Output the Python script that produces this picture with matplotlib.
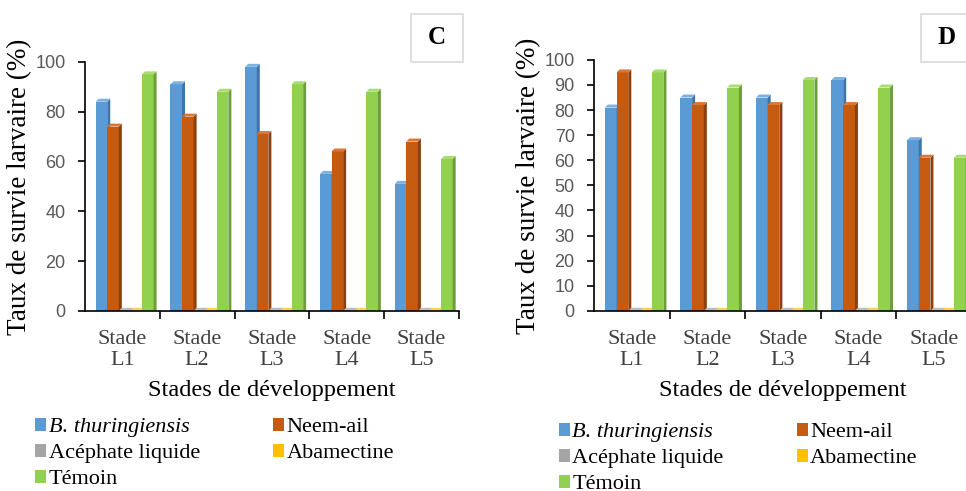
import matplotlib
matplotlib.use('Agg')
import matplotlib.pyplot as plt
from matplotlib.patches import Patch, Rectangle
import numpy as np

plt.rcParams['font.family'] = ['Liberation Serif', 'DejaVu Serif']

stages = ['Stade\nL1', 'Stade\nL2', 'Stade\nL3', 'Stade\nL4', 'Stade\nL5']
series = ['B. thuringiensis', 'Neem-ail', 'Acéphate liquide', 'Abamectine', 'Témoin']

# panel C
c_bt = [84, 91, 98, 55, 51]
c_neem = [74, 78, 71, 64, 68]
c_acephate = [0, 0, 0, 0, 0]
c_abamectine = [0, 0, 0, 0, 0]
c_temoin = [95, 88, 91, 88, 61]

# panel D
d_bt = [81, 85, 85, 92, 68]
d_neem = [95, 82, 82, 82, 61]
d_acephate = [0, 0, 0, 0, 0]
d_abamectine = [0, 0, 0, 0, 0]
d_temoin = [95, 89, 92, 89, 61]

front = ['#5B9BD5', '#C55A11', '#A5A5A5', '#FFC000', '#92D050']
side = ['#3F74A8', '#8E3F0B', '#7C7C7C', '#C09000', '#6E9E3A']
top = ['#7DB1E0', '#D9773A', '#BDBDBD', '#FFD24D', '#A9DC75']

W = 0.155     # bar width (category units)
DX = 0.04     # depth in x
DY = 1.2      # depth in y (data units)


def draw_panel(ax, data, yticks):
    x = np.arange(len(stages))
    for i, vals in enumerate(data):
        xs = x + (i - 2) * W + 0.03
        z = 2 + i
        ax.bar(xs, vals, width=W, color=front[i], zorder=z, linewidth=0)
        for xc, v in zip(xs, vals):
            x0, x1 = xc - W / 2, xc + W / 2
            # right side face
            ax.fill([x1, x1 + DX, x1 + DX, x1], [0, 0, v + DY, v],
                    color=side[i], zorder=z, linewidth=0)
            # top face
            ax.fill([x0, x1, x1 + DX, x0 + DX], [v, v, v + DY, v + DY],
                    color=top[i], zorder=z, linewidth=0)
    ax.set_xlim(-0.5, 4.5)
    ax.set_ylim(0, 100)
    ax.set_yticks(yticks)
    ax.set_yticklabels([str(t) for t in yticks], family='Liberation Sans')
    ax.set_xticks(x)
    ax.set_xticklabels(stages, fontsize=16, color='#404040', linespacing=1.15)
    ax.set_xticks(np.arange(0.5, 5, 1), minor=True)
    ax.tick_params(axis='x', which='major', length=0, pad=14)
    ax.tick_params(axis='x', which='minor', length=6, width=1.2, direction='out')
    ax.tick_params(axis='y', length=5, width=1.2, labelsize=13, labelcolor='#595959', pad=9)
    for s in ['top', 'right']:
        ax.spines[s].set_visible(False)
    for s in ['left', 'bottom']:
        ax.spines[s].set_linewidth(1.2)
        ax.spines[s].set_zorder(10)
    ax.set_ylabel('Taux de survie larvaire (%)', fontsize=19.5, labelpad=2)
    ax.set_xlabel('Stades de développement', fontsize=17.5, labelpad=7)


fig = plt.figure(figsize=(9.66, 4.91), dpi=100)
ax_c = fig.add_axes([0.088, 0.367, 0.387, 0.507])
ax_d = fig.add_axes([0.615, 0.367, 0.391, 0.511])

draw_panel(ax_c, [c_bt, c_neem, c_acephate, c_abamectine, c_temoin], np.arange(0, 101, 20))
draw_panel(ax_d, [d_bt, d_neem, d_acephate, d_abamectine, d_temoin], np.arange(0, 101, 10))

# legends (column-major order to get row layout)
order = [0, 2, 4, 1, 3]
for xpos, ypos in [(0.025, 0.171), (0.567, 0.161)]:
    handles = [Patch(facecolor=front[k], edgecolor='none') for k in order]
    labels = [series[k] for k in order]
    leg = fig.legend(handles, labels, ncol=2, loc='upper left',
                     bbox_to_anchor=(xpos, ypos), frameon=False, fontsize=16,
                     handlelength=0.5, handleheight=0.5, handletextpad=0.1,
                     labelspacing=0.3, columnspacing=3.3, borderpad=0)
    leg.get_texts()[0].set_style('italic')

# panel letters
for bx, letter in [(411, 'C'), (921, 'D')]:
    fig.patches.append(Rectangle((bx / 966, 1 - 62 / 491), 52 / 966, 48 / 491,
                                 transform=fig.transFigure, facecolor='white',
                                 edgecolor='#D9D9D9', linewidth=1.2))
    fig.text((bx + 26) / 966, 1 - 38 / 491, letter, fontsize=18, fontweight='bold',
             ha='center', va='center')

fig.savefig('out.png', dpi=100)
